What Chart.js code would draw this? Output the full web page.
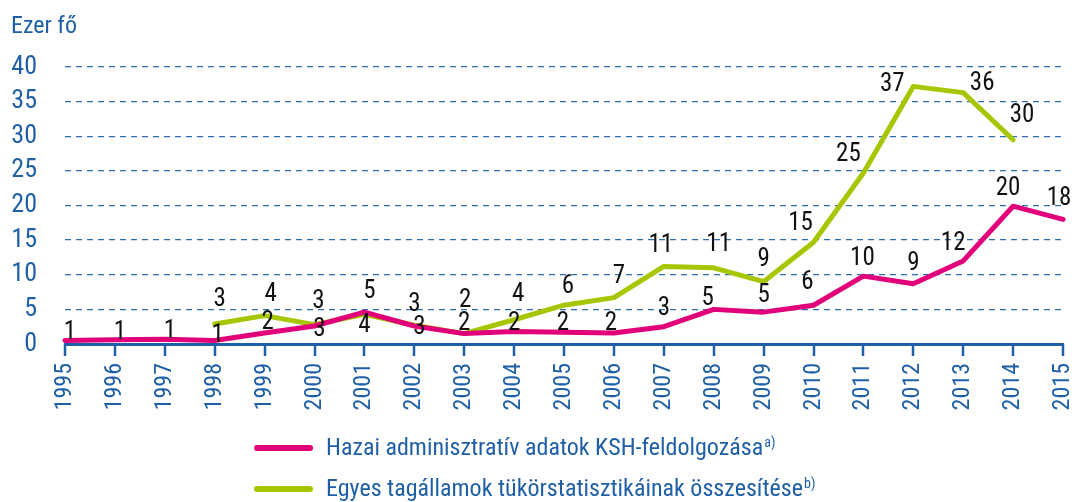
<!DOCTYPE html>
<html>
<head>
<meta charset="utf-8">
<script src="https://cdn.jsdelivr.net/npm/chart.js@4"></script>
<style>
  html, body { margin: 0; padding: 0; background: #ffffff; }
  #wrap { width: 1074px; height: 502px; position: relative; }
</style>
</head>
<body>
<div id="wrap"><canvas id="c" width="1074" height="502"></canvas></div>
<script>
// ---- data ----
const years = ['1995','1996','1997','1998','1999','2000','2001','2002','2003','2004','2005','2006','2007','2008','2009','2010','2011','2012','2013','2014','2015'];
const hazai = [0.5,0.6,0.7,0.5,1.6,2.6,4.6,2.6,1.5,1.8,1.7,1.6,2.5,5.0,4.6,5.6,9.8,8.7,12.0,19.9,18.0];
const tukor = [null,null,null,2.9,4.1,2.8,4.3,2.7,1.5,3.5,5.6,6.7,11.2,11.0,9.0,14.7,24.7,37.2,36.3,29.5,null];
const yTicks = [0,5,10,15,20,25,30,35,40];
const seriesNames = ['Hazai adminisztratív adatok KSH-feldolgozása','Egyes tagállamok tükörstatisztikáinak összesítése'];
const seriesNotes = ['a)','b)'];
const yTitle = 'Ezer fő';

// ---- label placement (style only) ----
const hazaiLabelOff = [[5,-8],[5,-7],[5,-7],[3,-5],[3,-10],[5,4],[5,-20],[0,-21],[0,-10],[0,-8],[-1,-8],[-3,-9],[0,-18],[-6,-11],[0,-16],[-6,-22],[-1,-17],[0,-20],[-10,-17],[-5,-17],[-4,-21]];
const tukorLabelOff = [null,null,null,[5,-24],[6,-21],[4,-23],[0,12],[5,2],[1,-33],[4,-25],[4,-18],[5,-21],[-3,-21],[5,-23],[0,-22],[-13,-18],[-15,-18],[-21,-2],[19,-9],[9,-24],null];

const BLUE = '#1f5fa6';
const GRID = '#2e6db3';
const MAG = '#e2007a';
const GRN = '#a8c600';
const FONT = "'Liberation Sans Narrow', 'Roboto Condensed', 'DejaVu Sans Condensed', sans-serif";

const labelPlugin = {
  id: 'valLabels',
  afterDatasetsDraw(chart) {
    const ctx = chart.ctx;
    const offs = [hazaiLabelOff, tukorLabelOff];
    ctx.save();
    ctx.font = '25px ' + FONT;
    ctx.fillStyle = '#111111';
    ctx.textAlign = 'center';
    ctx.textBaseline = 'middle';
    chart.data.datasets.forEach((ds, di) => {
      const meta = chart.getDatasetMeta(di);
      meta.data.forEach((pt, i) => {
        const v = ds.data[i];
        if (v === null || v === undefined) return;
        const o = offs[di][i] || [0, -20];
        ctx.fillText(String(Math.round(v)), pt.x + o[0], pt.y + o[1]);
      });
    });
    ctx.restore();
  }
};

const extrasPlugin = {
  id: 'extras',
  afterDraw(chart) {
    const ctx = chart.ctx;
    const xs = chart.scales.x;
    ctx.save();
    // x-axis tick marks
    ctx.strokeStyle = BLUE;
    ctx.lineWidth = 2.5;
    ctx.lineCap = 'butt';
    xs.ticks.forEach((t, i) => {
      const px = Math.round(xs.getPixelForTick(i));
      ctx.beginPath();
      ctx.moveTo(px, xs.top);
      ctx.lineTo(px, xs.top + 12);
      ctx.stroke();
    });
    // y-axis unit title
    ctx.font = '24px ' + FONT;
    ctx.fillStyle = BLUE;
    ctx.textAlign = 'left';
    ctx.textBaseline = 'middle';
    ctx.fillText(yTitle, 11, 27);
    // legend
    const colors = [MAG, GRN];
    const rows = [449, 490];
    chart.data.datasets.forEach((ds, i) => {
      const y = rows[i];
      ctx.strokeStyle = colors[i];
      ctx.lineWidth = 6;
      ctx.lineCap = 'round';
      ctx.beginPath();
      ctx.moveTo(257, y - 1);
      ctx.lineTo(310, y - 1);
      ctx.stroke();
      ctx.font = '24px ' + FONT;
      ctx.fillStyle = BLUE;
      ctx.textBaseline = 'middle';
      ctx.fillText(seriesNames[i], 326, y);
      const w = ctx.measureText(seriesNames[i]).width;
      ctx.font = '14px ' + FONT;
      ctx.fillText(seriesNotes[i], 326 + w + 1, y - 6);
    });
    ctx.restore();
  }
};

new Chart(document.getElementById('c'), {
  type: 'line',
  data: {
    labels: years,
    datasets: [
      { label: seriesNames[0], data: hazai, borderColor: MAG, backgroundColor: MAG, borderWidth: 5,
        pointRadius: 0, tension: 0, borderCapStyle: 'round', borderJoinStyle: 'round', clip: false, spanGaps: false },
      { label: seriesNames[1], data: tukor, borderColor: GRN, backgroundColor: GRN, borderWidth: 5,
        pointRadius: 0, tension: 0, borderCapStyle: 'round', borderJoinStyle: 'round', clip: false, spanGaps: false }
    ]
  },
  options: {
    responsive: false,
    animation: false,
    devicePixelRatio: 1,
    layout: { padding: { left: 0, right: 11, top: 67, bottom: 88 } },
    plugins: { legend: { display: false }, tooltip: { enabled: false }, title: { display: false } },
    scales: {
      x: {
        offset: false,
        grid: { display: false, drawOnChartArea: false, drawTicks: false },
        border: { display: true, color: BLUE, width: 3 },
        ticks: { color: BLUE, font: { family: FONT, size: 24 }, minRotation: 90, maxRotation: 90, autoSkip: false, padding: 19 },
        afterFit(scale) { scale.height = 70; scale.paddingLeft = 0; scale.paddingRight = 0; }
      },
      y: {
        min: 0, max: 40,
        afterBuildTicks(scale) { scale.ticks = yTicks.map(v => ({ value: v })); },
        grid: { drawTicks: false, color: GRID, lineWidth: 1.3 },
        border: { display: false, dash: [6, 5] },
        ticks: { color: BLUE, font: { family: FONT, size: 26 }, padding: 28 },
        afterFit(scale) { scale.width = 65; scale.paddingTop = 0; scale.paddingBottom = 0; }
      }
    }
  },
  plugins: [labelPlugin, extrasPlugin]
});
</script>
</body>
</html>
